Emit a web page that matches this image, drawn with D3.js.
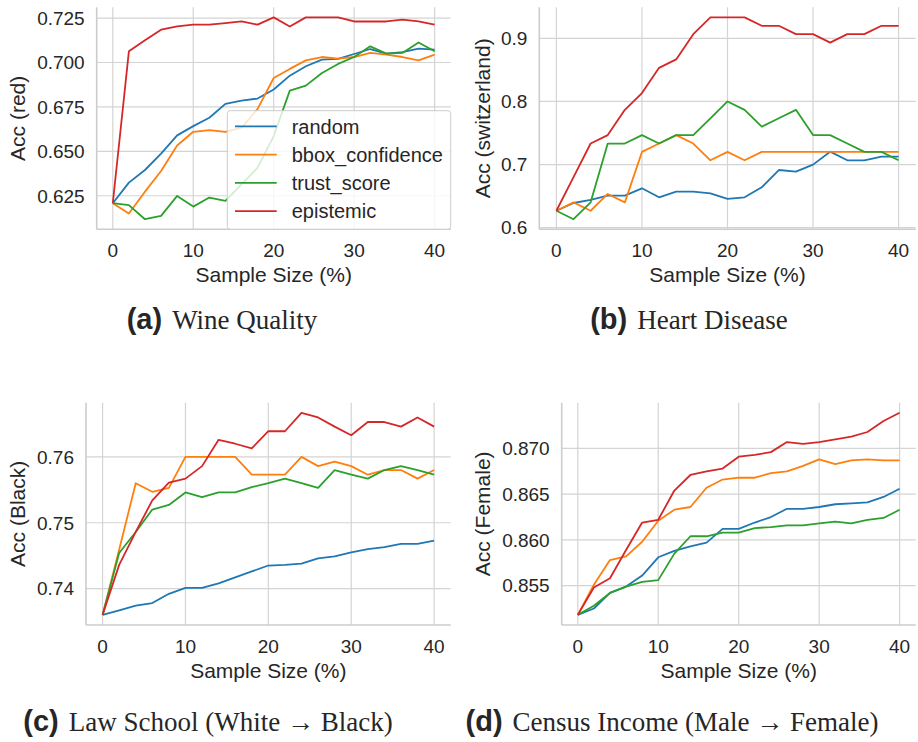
<!DOCTYPE html>
<html>
<head>
<meta charset="utf-8">
<script src="https://cdn.jsdelivr.net/npm/d3@7"></script>
<style>
  body { margin: 0; background: #fff; }
  text { font-family: "Liberation Sans", Arial, sans-serif; fill: #262626; }
</style>
</head>
<body>
<script>
var sampleSize = [0, 2, 4, 6, 8, 10, 12, 14, 16, 18, 20, 22, 24, 26, 28, 30, 32, 34, 36, 38, 40];
var xTicks = [0, 10, 20, 30, 40];
var methods = ['random', 'bbox_confidence', 'trust_score', 'epistemic'];
var colors = ['#1f77b4', '#ff7f0e', '#2ca02c', '#d62728'];

// (a) wine quality
var wineRandom = [0.6208, 0.6324, 0.6395, 0.6487, 0.659, 0.6642, 0.6689, 0.6767, 0.6786, 0.6797, 0.6848,
                  0.6926, 0.6979, 0.7016, 0.702, 0.7048, 0.7076, 0.705, 0.7059, 0.7078, 0.7072];
var wineBbox = [0.6208, 0.615, 0.6273, 0.6389, 0.6533, 0.661, 0.6619, 0.661, 0.6633, 0.6739, 0.6913,
                0.6964, 0.7012, 0.7031, 0.7022, 0.7031, 0.7054, 0.7044, 0.7031, 0.7012, 0.7044];
var wineTrust = [0.6208, 0.6197, 0.6118, 0.6137, 0.6249, 0.6189, 0.624, 0.6221, 0.6314, 0.6408, 0.6586,
                 0.6842, 0.687, 0.6941, 0.6992, 0.7031, 0.7091, 0.705, 0.7054, 0.7113, 0.7063];
var wineEpi = [0.6208, 0.7063, 0.7125, 0.7185, 0.7203, 0.7213, 0.7213, 0.7222, 0.7231, 0.7213, 0.7254,
               0.7203, 0.7254, 0.7254, 0.7254, 0.7231, 0.7231, 0.7231, 0.7241, 0.7231, 0.7213];
var wineTicks = [0.625, 0.65, 0.675, 0.7, 0.725];

// (b) heart disease
var heartRandom = [0.6267, 0.639, 0.6438, 0.6507, 0.6507, 0.6623, 0.648, 0.657, 0.657, 0.6543, 0.6454,
                   0.648, 0.6639, 0.6913, 0.6887, 0.6998, 0.7204, 0.7067, 0.7067, 0.7125, 0.7125];
var heartBbox = [0.6267, 0.64, 0.6267, 0.6533, 0.64, 0.72, 0.7333, 0.7467, 0.7333, 0.7067, 0.72,
                 0.7067, 0.72, 0.72, 0.72, 0.72, 0.72, 0.72, 0.72, 0.72, 0.72];
var heartTrust = [0.6267, 0.6133, 0.64, 0.7333, 0.7333, 0.7467, 0.7333, 0.7467, 0.7467, 0.7733, 0.8,
                  0.7867, 0.76, 0.7733, 0.7867, 0.7467, 0.7467, 0.7333, 0.72, 0.72, 0.7067];
var heartEpi = [0.6267, 0.68, 0.7333, 0.7467, 0.7867, 0.8133, 0.8533, 0.8667, 0.9067, 0.9333, 0.9333,
                0.9333, 0.92, 0.92, 0.9067, 0.9067, 0.8933, 0.9067, 0.9067, 0.92, 0.92];
var heartTicks = [0.6, 0.7, 0.8, 0.9];

// (c) law school
var lawRandom = [0.736, 0.7367, 0.7374, 0.7378, 0.7392, 0.7401, 0.7401, 0.7408, 0.7417, 0.7426, 0.7435,
                 0.7436, 0.7438, 0.7446, 0.7449, 0.7455, 0.746, 0.7463, 0.7468, 0.7468, 0.7473];
var lawBbox = [0.736, 0.7459, 0.756, 0.7547, 0.7553, 0.76, 0.76, 0.76, 0.76, 0.7573, 0.7573,
               0.7573, 0.76, 0.7586, 0.7593, 0.7586, 0.7573, 0.758, 0.758, 0.7567, 0.758];
var lawTrust = [0.736, 0.7454, 0.7486, 0.752, 0.7527, 0.7546, 0.7539, 0.7546, 0.7546, 0.7554, 0.756,
                0.7567, 0.756, 0.7553, 0.758, 0.7573, 0.7567, 0.758, 0.7586, 0.758, 0.7573];
var lawEpi = [0.736, 0.7436, 0.7486, 0.7534, 0.7561, 0.7567, 0.7586, 0.7626, 0.762, 0.7613, 0.7639,
              0.7639, 0.7667, 0.766, 0.7646, 0.7633, 0.7653, 0.7653, 0.7646, 0.766, 0.7646];
var lawTicks = [0.74, 0.75, 0.76];

// (d) census income
var censusRandom = [0.8518, 0.8525, 0.8542, 0.8549, 0.8561, 0.8581, 0.8588, 0.8593, 0.8597, 0.8612, 0.8612,
                    0.8619, 0.8625, 0.8634, 0.8634, 0.8636, 0.8639, 0.864, 0.8641, 0.8647, 0.8656];
var censusBbox = [0.8518, 0.8551, 0.8578, 0.8582, 0.8598, 0.8621, 0.8633, 0.8636, 0.8657, 0.8666, 0.8668,
                  0.8668, 0.8673, 0.8675, 0.8681, 0.8688, 0.8683, 0.8687, 0.8688, 0.8687, 0.8687];
var censusTrust = [0.8518, 0.8528, 0.8542, 0.8549, 0.8554, 0.8556, 0.8585, 0.8604, 0.8604, 0.8608, 0.8608,
                   0.8613, 0.8614, 0.8616, 0.8616, 0.8618, 0.862, 0.8618, 0.8622, 0.8624, 0.8633];
var censusEpi = [0.8518, 0.8548, 0.8558, 0.8589, 0.8619, 0.8622, 0.8654, 0.8671, 0.8675, 0.8678, 0.8691,
                 0.8693, 0.8696, 0.8707, 0.8705, 0.8707, 0.871, 0.8713, 0.8718, 0.873, 0.8739];
var censusTicks = [0.855, 0.86, 0.865, 0.87];

var width = 918;
var height = 742;

var svg = d3.select('body').append('svg')
  .attr('width', width)
  .attr('height', height);

var panels = [
  { series: [wineRandom, wineBbox, wineTrust, wineEpi], ticks: wineTicks, fmt: '.3f', ylabel: 'Acc (red)',
    box: [96.7, 450.7, 7.3, 229.3], labelX: 25, legend: true,
    tag: '(a)', caption: 'Wine Quality', capX: 222, capY: 329 },
  { series: [heartRandom, heartBbox, heartTrust, heartEpi], ticks: heartTicks, fmt: '.1f', ylabel: 'Acc (switzerland)',
    box: [539.3, 915.7, 7.3, 229.3], labelX: 490, legend: false,
    tag: '(b)', caption: 'Heart Disease', capX: 689, capY: 329 },
  { series: [lawRandom, lawBbox, lawTrust, lawEpi], ticks: lawTicks, fmt: '.2f', ylabel: 'Acc (Black)',
    box: [86, 450.7, 402.7, 625], labelX: 24.5, legend: false,
    tag: '(c)', caption: 'Law School (White \u2192 Black)', capX: 208, capY: 731 },
  { series: [censusRandom, censusBbox, censusTrust, censusEpi], ticks: censusTicks, fmt: '.3f', ylabel: 'Acc (Female)',
    box: [561.7, 915.7, 402.7, 625], labelX: 490, legend: false,
    tag: '(d)', caption: 'Census Income (Male \u2192 Female)', capX: 672, capY: 731 }
];

panels.forEach(function(p) {
  var left = p.box[0], right = p.box[1], top = p.box[2], bottom = p.box[3];

  var all = d3.merge(p.series);
  var lo = d3.min(all), hi = d3.max(all);
  var pad = (hi - lo) * 0.05;

  var x = d3.scaleLinear().domain([-2, 42]).range([left, right]);
  var y = d3.scaleLinear().domain([lo - pad, hi + pad]).range([bottom, top]);

  var g = svg.append('g');

  // grid
  g.selectAll('.vgrid').data(xTicks).enter().append('line')
    .attr('x1', function(d) { return x(d); })
    .attr('x2', function(d) { return x(d); })
    .attr('y1', top).attr('y2', bottom)
    .attr('stroke', '#d4d4d4').attr('stroke-width', 1.2);
  g.selectAll('.hgrid').data(p.ticks).enter().append('line')
    .attr('x1', left).attr('x2', right)
    .attr('y1', function(d) { return y(d); })
    .attr('y2', function(d) { return y(d); })
    .attr('stroke', '#d4d4d4').attr('stroke-width', 1.2);

  // spines (left + bottom only)
  g.append('line').attr('x1', left).attr('x2', left).attr('y1', top).attr('y2', bottom)
    .attr('stroke', '#cccccc').attr('stroke-width', 1.6);
  g.append('line').attr('x1', left).attr('x2', right).attr('y1', bottom).attr('y2', bottom)
    .attr('stroke', '#cccccc').attr('stroke-width', 1.6);

  // tick labels
  var fmt = d3.format(p.fmt);
  g.selectAll('.ytick').data(p.ticks).enter().append('text')
    .attr('x', left - 12)
    .attr('y', function(d) { return y(d); })
    .attr('dy', '0.36em')
    .attr('text-anchor', 'end')
    .attr('font-size', 19)
    .text(function(d) { return fmt(d); });
  g.selectAll('.xtick').data(xTicks).enter().append('text')
    .attr('x', function(d) { return x(d); })
    .attr('y', bottom + 28)
    .attr('text-anchor', 'middle')
    .attr('font-size', 19)
    .text(function(d) { return d; });

  // axis labels
  g.append('text')
    .attr('x', (left + right) / 2)
    .attr('y', bottom + 52.7)
    .attr('text-anchor', 'middle')
    .attr('font-size', 21)
    .text('Sample Size (%)');
  g.append('text')
    .attr('transform', 'translate(' + p.labelX + ',' + ((top + bottom) / 2) + ') rotate(-90)')
    .attr('text-anchor', 'middle')
    .attr('font-size', 21)
    .text(p.ylabel);

  // lines
  var line = d3.line()
    .x(function(d, i) { return x(sampleSize[i]); })
    .y(function(d) { return y(d); });
  p.series.forEach(function(s, k) {
    g.append('path')
      .attr('d', line(s))
      .attr('fill', 'none')
      .attr('stroke', colors[k])
      .attr('stroke-width', 1.8)
      .attr('stroke-linejoin', 'round');
  });

  // legend
  if (p.legend) {
    var lg = g.append('g');
    lg.append('rect')
      .attr('x', right - 223.4).attr('y', bottom - 118.6)
      .attr('width', 223.4).attr('height', 118.6)
      .attr('rx', 3)
      .attr('fill', 'white').attr('fill-opacity', 0.8)
      .attr('stroke', '#cccccc').attr('stroke-width', 1);
    methods.forEach(function(m, k) {
      var ry = bottom - 103 + k * 28.3;
      lg.append('line')
        .attr('x1', right - 215.7).attr('x2', right - 174)
        .attr('y1', ry).attr('y2', ry)
        .attr('stroke', colors[k]).attr('stroke-width', 1.8);
      lg.append('text')
        .attr('x', right - 159)
        .attr('y', ry)
        .attr('dy', '0.36em')
        .attr('font-size', 20)
        .text(m);
    });
  }

  // caption
  var cap = svg.append('text')
    .attr('x', p.capX)
    .attr('y', p.capY)
    .attr('text-anchor', 'middle');
  cap.append('tspan')
    .attr('font-weight', 'bold')
    .attr('font-size', 29)
    .text(p.tag);
  cap.append('tspan')
    .attr('dx', 10)
    .attr('font-size', 27)
    .style('font-family', '"Liberation Serif", "DejaVu Serif", serif')
    .text(p.caption);
});
</script>
</body>
</html>
